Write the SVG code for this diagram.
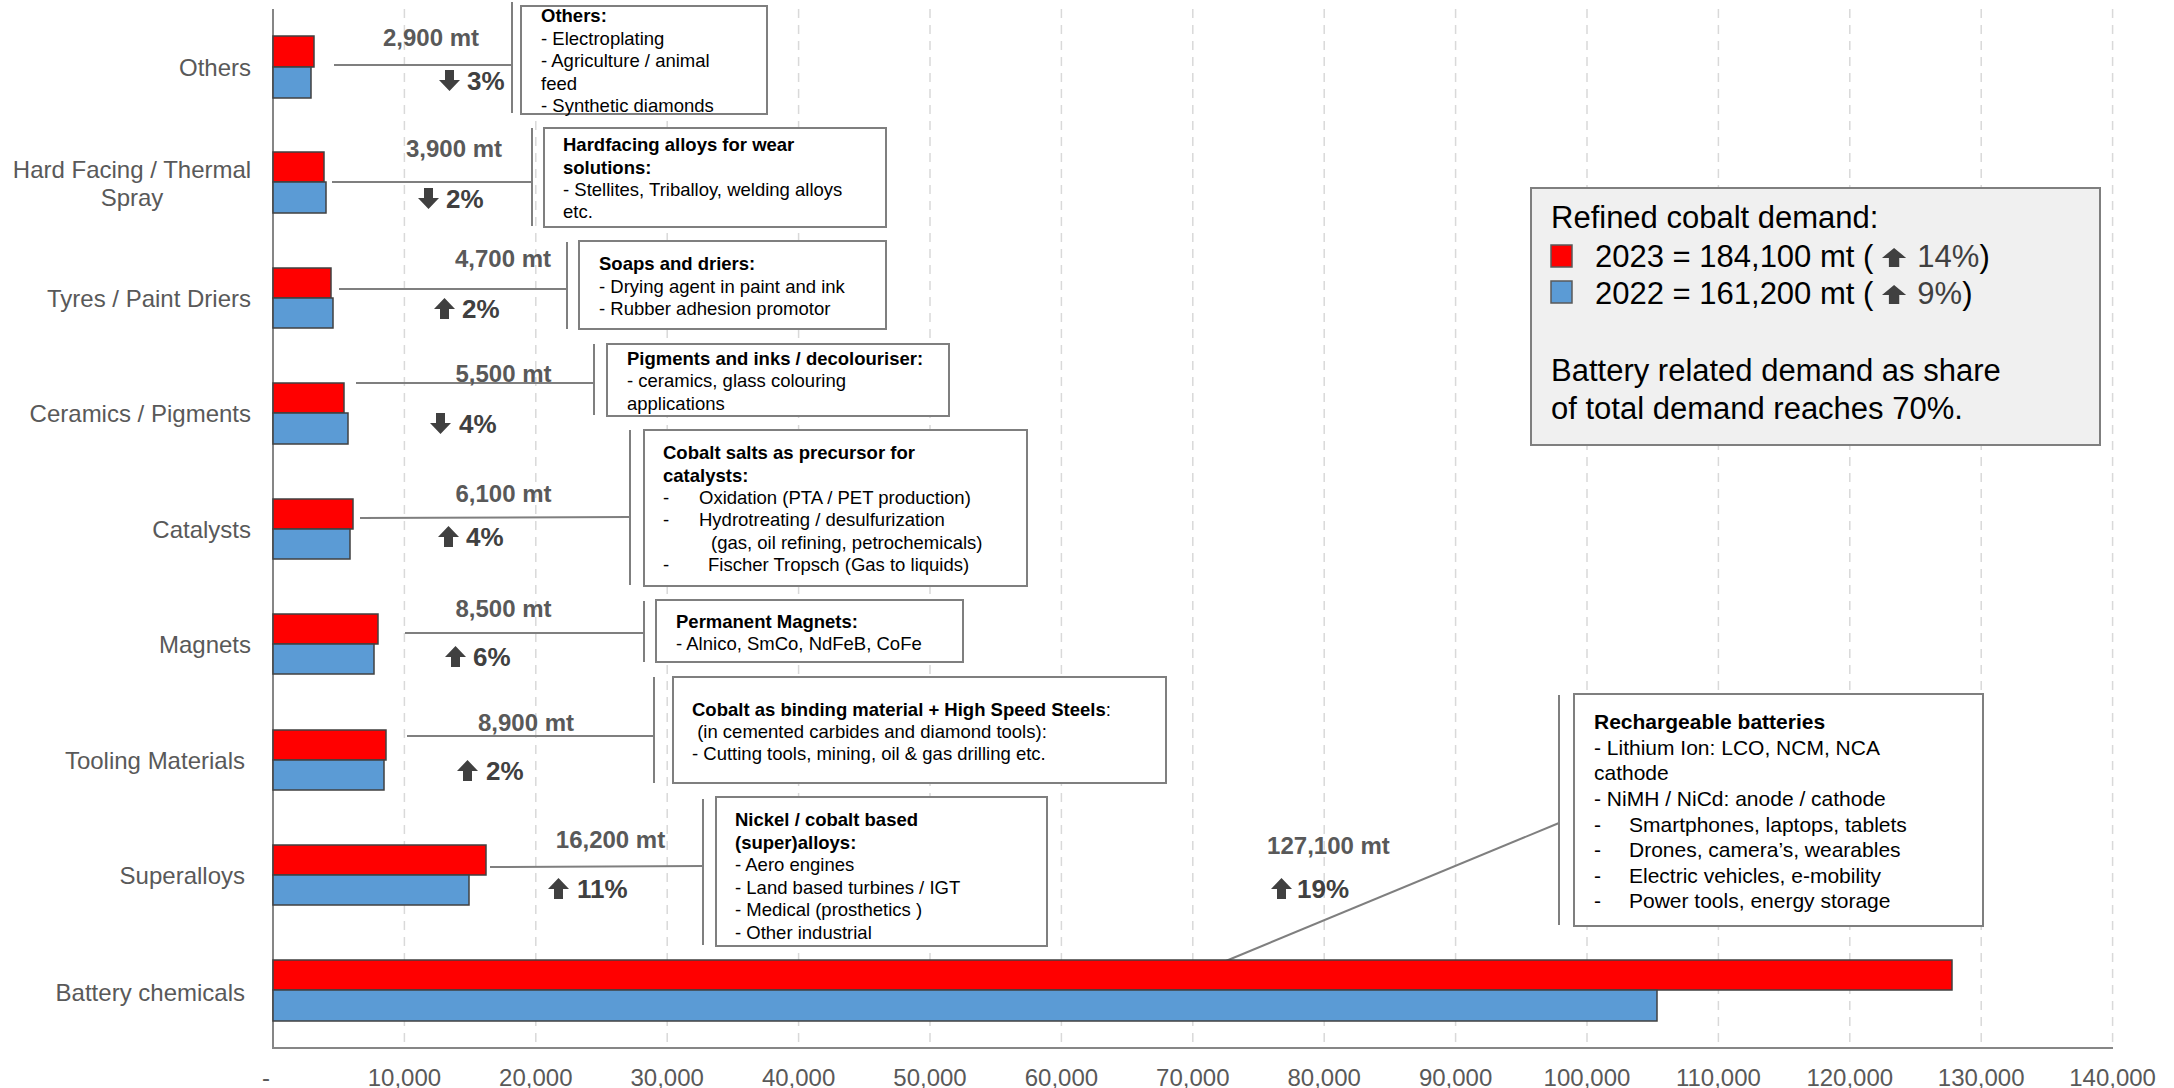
<svg xmlns="http://www.w3.org/2000/svg" xmlns:xlink="http://www.w3.org/1999/xlink" width="2174" height="1088" viewBox="0 0 2174 1088">
<style>
.cat{font-family:"Liberation Sans",Arial,sans-serif;font-size:24px;fill:#595959}
.ax{font-family:"Liberation Sans",Arial,sans-serif;font-size:24px;fill:#595959;text-anchor:middle}
.val{font-family:"Liberation Sans",Arial,sans-serif;font-size:24px;font-weight:bold;fill:#595959;text-anchor:middle}
.pct{font-family:"Liberation Sans",Arial,sans-serif;font-size:26px;font-weight:bold;fill:#404040}
.bt{font-family:"Liberation Sans",Arial,sans-serif;font-size:18.5px;fill:#000}
.bb{font-weight:bold}
.big{font-family:"Liberation Sans",Arial,sans-serif;font-size:21px;fill:#000}
.leg{font-family:"Liberation Sans",Arial,sans-serif;font-size:31px;fill:#000}
.box{fill:#fff;stroke:#7f7f7f;stroke-width:2}
.r{fill:#ff0000;stroke:#404040;stroke-width:1.5}
.b{fill:#5b9bd5;stroke:#404040;stroke-width:1.5}
.grid{stroke:#d9d9d9;stroke-width:1.5;stroke-dasharray:9,7}
.lead{stroke:#7f7f7f;stroke-width:2;fill:none}
.arr{fill:#404040}
</style>
<defs>
<path id="up" d="M10.5,0 L21,11 L15,11 L15,21 L6,21 L6,11 L0,11 Z"/>
<path id="dn" d="M10.5,21 L21,10 L15,10 L15,0 L6,0 L6,10 L0,10 Z"/>
</defs>
<rect width="2174" height="1088" fill="#fff"/>

<g id="grid">
<line class="grid" x1="404.4" y1="9" x2="404.4" y2="1048"/>
<line class="grid" x1="535.8" y1="9" x2="535.8" y2="1048"/>
<line class="grid" x1="667.2" y1="9" x2="667.2" y2="1048"/>
<line class="grid" x1="798.6" y1="9" x2="798.6" y2="1048"/>
<line class="grid" x1="930" y1="9" x2="930" y2="1048"/>
<line class="grid" x1="1061.4" y1="9" x2="1061.4" y2="1048"/>
<line class="grid" x1="1192.8" y1="9" x2="1192.8" y2="1048"/>
<line class="grid" x1="1324.2" y1="9" x2="1324.2" y2="1048"/>
<line class="grid" x1="1455.6" y1="9" x2="1455.6" y2="1048"/>
<line class="grid" x1="1587" y1="9" x2="1587" y2="1048"/>
<line class="grid" x1="1718.4" y1="9" x2="1718.4" y2="1048"/>
<line class="grid" x1="1849.8" y1="9" x2="1849.8" y2="1048"/>
<line class="grid" x1="1981.2" y1="9" x2="1981.2" y2="1048"/>
<line class="grid" x1="2112.6" y1="9" x2="2112.6" y2="1048"/>
</g>

<g id="axes">
<line x1="273" y1="9" x2="273" y2="1048" stroke="#868686" stroke-width="2"/>
<line x1="272" y1="1048" x2="2113" y2="1048" stroke="#868686" stroke-width="2"/>
<text class="ax" x="266" y="1086">-</text>
<text class="ax" x="404.4" y="1086">10,000</text>
<text class="ax" x="535.8" y="1086">20,000</text>
<text class="ax" x="667.2" y="1086">30,000</text>
<text class="ax" x="798.6" y="1086">40,000</text>
<text class="ax" x="930" y="1086">50,000</text>
<text class="ax" x="1061.4" y="1086">60,000</text>
<text class="ax" x="1192.8" y="1086">70,000</text>
<text class="ax" x="1324.2" y="1086">80,000</text>
<text class="ax" x="1455.6" y="1086">90,000</text>
<text class="ax" x="1587" y="1086">100,000</text>
<text class="ax" x="1718.4" y="1086">110,000</text>
<text class="ax" x="1849.8" y="1086">120,000</text>
<text class="ax" x="1981.2" y="1086">130,000</text>
<text class="ax" x="2112.6" y="1086">140,000</text>
</g>

<g id="connectors">
<polyline class="lead" points="334,65 512,65"/><line class="lead" x1="512" y1="2" x2="512" y2="113"/>
<polyline class="lead" points="332,182 532,182"/><line class="lead" x1="532" y1="128" x2="532" y2="226"/>
<polyline class="lead" points="339,289 567,289"/><line class="lead" x1="567" y1="242" x2="567" y2="329"/>
<polyline class="lead" points="356,383 594,383"/><line class="lead" x1="594" y1="344" x2="594" y2="415"/>
<polyline class="lead" points="360,518 630,517"/><line class="lead" x1="630" y1="430" x2="630" y2="585"/>
<polyline class="lead" points="405,633 644,633"/><line class="lead" x1="644" y1="601" x2="644" y2="662"/>
<polyline class="lead" points="407,736 654,736"/><line class="lead" x1="654" y1="677" x2="654" y2="783"/>
<polyline class="lead" points="490,867 703,866"/><line class="lead" x1="703" y1="799" x2="703" y2="945"/>
<polyline class="lead" points="1221,963 1559,823"/><line class="lead" x1="1559" y1="695" x2="1559" y2="925"/>
</g>

<g id="others">
<text class="cat" x="251" y="75.5" text-anchor="end">Others</text>
<rect class="r" x="273" y="36" width="41" height="31"/>
<rect class="b" x="273" y="67" width="38" height="31"/>
<text class="val" x="431" y="45.5">2,900 mt</text>
<use href="#dn" class="arr" x="439" y="70"/><text class="pct" x="467" y="89.5">3%</text>
<rect class="box" x="521" y="6" width="246" height="108"/>
<text class="bt" x="541"><tspan class="bb" x="541" y="21.5">Others:</tspan><tspan x="541" y="44.5">- Electroplating</tspan><tspan x="541" y="66.5">- Agriculture / animal</tspan><tspan x="541" y="89.5">feed</tspan><tspan x="541" y="111.5">- Synthetic diamonds</tspan></text>
</g>

<g id="hardfacing">
<text class="cat" text-anchor="middle"><tspan x="132" y="177.5">Hard Facing / Thermal</tspan><tspan x="132" y="205.5">Spray</tspan></text>
<rect class="r" x="273" y="152" width="51" height="30"/>
<rect class="b" x="273" y="182" width="53" height="31"/>
<text class="val" x="454" y="156.5">3,900 mt</text>
<use href="#dn" class="arr" x="418" y="188"/><text class="pct" x="446" y="207.5">2%</text>
<rect class="box" x="544" y="128" width="342" height="99"/>
<text class="bt"><tspan class="bb" x="563" y="150.5">Hardfacing alloys for wear</tspan><tspan class="bb" x="563" y="173.5">solutions:</tspan><tspan x="563" y="195.5">- Stellites, Triballoy, welding alloys</tspan><tspan x="563" y="217.5">etc.</tspan></text>
</g>

<g id="tyres">
<text class="cat" x="251" y="306.5" text-anchor="end">Tyres / Paint Driers</text>
<rect class="r" x="273" y="268" width="58" height="30"/>
<rect class="b" x="273" y="298" width="60" height="30"/>
<text class="val" x="503" y="266.5">4,700 mt</text>
<use href="#up" class="arr" x="434" y="298"/><text class="pct" x="462" y="317.5">2%</text>
<rect class="box" x="579" y="241" width="307" height="88"/>
<text class="bt"><tspan class="bb" x="599" y="269.5">Soaps and driers:</tspan><tspan x="599" y="292.5">- Drying agent in paint and ink</tspan><tspan x="599" y="314.5">- Rubber adhesion promotor</tspan></text>
</g>

<g id="ceramics">
<text class="cat" x="251" y="422" text-anchor="end">Ceramics / Pigments</text>
<rect class="r" x="273" y="383" width="71" height="30"/>
<rect class="b" x="273" y="413" width="75" height="31"/>
<text class="val" x="503.5" y="381.5">5,500 mt</text>
<use href="#dn" class="arr" x="430" y="413"/><text class="pct" x="459" y="432.5">4%</text>
<rect class="box" x="607" y="344" width="342" height="72"/>
<text class="bt"><tspan class="bb" x="627" y="364.5">Pigments and inks / decolouriser:</tspan><tspan x="627" y="386.5">- ceramics, glass colouring</tspan><tspan x="627" y="409.5">applications</tspan></text>
</g>

<g id="catalysts">
<text class="cat" x="251" y="537.5" text-anchor="end">Catalysts</text>
<rect class="r" x="273" y="499" width="80" height="30"/>
<rect class="b" x="273" y="529" width="77" height="30"/>
<text class="val" x="503.5" y="501.5">6,100 mt</text>
<use href="#up" class="arr" x="438" y="526"/><text class="pct" x="466" y="545.5">4%</text>
<rect class="box" x="644" y="430" width="383" height="156"/>
<text class="bt"><tspan class="bb" x="663" y="458.5">Cobalt salts as precursor for</tspan><tspan class="bb" x="663" y="481.5">catalysts:</tspan><tspan x="663" y="503.5">-</tspan><tspan x="699" y="503.5">Oxidation (PTA / PET production)</tspan><tspan x="663" y="525.5">-</tspan><tspan x="699" y="525.5">Hydrotreating / desulfurization</tspan><tspan x="711" y="548.5">(gas, oil refining, petrochemicals)</tspan><tspan x="663" y="570.5">-</tspan><tspan x="708" y="570.5">Fischer Tropsch (Gas to liquids)</tspan></text>
</g>

<g id="magnets">
<text class="cat" x="251" y="653" text-anchor="end">Magnets</text>
<rect class="r" x="273" y="614" width="105" height="30"/>
<rect class="b" x="273" y="644" width="101" height="30"/>
<text class="val" x="503.5" y="616.5">8,500 mt</text>
<use href="#up" class="arr" x="445" y="646"/><text class="pct" x="473" y="665.5">6%</text>
<rect class="box" x="656" y="600" width="307" height="62"/>
<text class="bt"><tspan class="bb" x="676" y="627.5">Permanent Magnets:</tspan><tspan x="676" y="649.5">- Alnico, SmCo, NdFeB, CoFe</tspan></text>
</g>

<g id="tooling">
<text class="cat" x="245" y="768.5" text-anchor="end">Tooling Materials</text>
<rect class="r" x="273" y="730" width="113" height="30"/>
<rect class="b" x="273" y="760" width="111" height="30"/>
<text class="val" x="526" y="730.5">8,900 mt</text>
<use href="#up" class="arr" x="457" y="760"/><text class="pct" x="486" y="779.5">2%</text>
<rect class="box" x="673" y="677" width="493" height="106"/>
<text class="bt"><tspan class="bb" x="692" y="715.5">Cobalt as binding material + High Speed Steels</tspan><tspan>:</tspan><tspan x="692" y="737.5"> (in cemented carbides and diamond tools):</tspan><tspan x="692" y="759.5">- Cutting tools, mining, oil &amp; gas drilling etc.</tspan></text>
</g>

<g id="superalloys">
<text class="cat" x="245" y="884" text-anchor="end">Superalloys</text>
<rect class="r" x="273" y="845" width="213" height="30"/>
<rect class="b" x="273" y="875" width="196" height="30"/>
<text class="val" x="610.5" y="847.5">16,200 mt</text>
<use href="#up" class="arr" x="548" y="878"/><text class="pct" x="577" y="897.5">11%</text>
<rect class="box" x="716" y="797" width="331" height="149"/>
<text class="bt"><tspan class="bb" x="735" y="825.5">Nickel / cobalt based</tspan><tspan class="bb" x="735" y="848.5">(super)alloys:</tspan><tspan x="735" y="870.5">- Aero engines</tspan><tspan x="735" y="893.5">- Land based turbines / IGT</tspan><tspan x="735" y="915.5">- Medical (prosthetics )</tspan><tspan x="735" y="938.5">- Other industrial</tspan></text>
</g>

<g id="battery">
<text class="cat" x="245" y="1000.5" text-anchor="end">Battery chemicals</text>
<rect class="r" x="273" y="960" width="1679" height="30"/>
<rect class="b" x="273" y="990" width="1384" height="31"/>
<text class="val" x="1328.5" y="853.5">127,100 mt</text>
<use href="#up" class="arr" x="1271" y="878"/><text class="pct" x="1297" y="897.5">19%</text>
<rect class="box" x="1574" y="694" width="409" height="232"/>
<text class="big"><tspan class="bb" x="1594" y="729">Rechargeable batteries</tspan><tspan x="1594" y="755">- Lithium Ion: LCO, NCM, NCA</tspan><tspan x="1594" y="780">cathode</tspan><tspan x="1594" y="806">- NiMH / NiCd: anode / cathode</tspan><tspan x="1594" y="832">-</tspan><tspan x="1629" y="832">Smartphones, laptops, tablets</tspan><tspan x="1594" y="857">-</tspan><tspan x="1629" y="857">Drones, camera’s, wearables</tspan><tspan x="1594" y="883">-</tspan><tspan x="1629" y="883">Electric vehicles, e-mobility</tspan><tspan x="1594" y="908">-</tspan><tspan x="1629" y="908">Power tools, energy storage</tspan></text>
</g>

<g id="legend">
<rect x="1531" y="188" width="569" height="257" fill="#f0f0f0" stroke="#7f7f7f" stroke-width="2"/>
<text class="leg" x="1551" y="228">Refined cobalt demand:</text>
<rect x="1551" y="245" width="21" height="22" fill="#ff0000" stroke="#595959" stroke-width="1.5"/>
<text class="leg" x="1595" y="267"><tspan>2023 = 184,100 mt (</tspan><tspan dx="44" fill="#404040">14%</tspan><tspan>)</tspan></text>
<use href="#up" class="arr" x="1882" y="248" transform="translate(1882,248) scale(1.15,0.9) translate(-1882,-248)"/>
<rect x="1551" y="281" width="21" height="22" fill="#5b9bd5" stroke="#595959" stroke-width="1.5"/>
<text class="leg" x="1595" y="304"><tspan>2022 = 161,200 mt (</tspan><tspan dx="44" fill="#404040">9%</tspan><tspan>)</tspan></text>
<use href="#up" class="arr" x="1882" y="285" transform="translate(1882,285) scale(1.15,0.9) translate(-1882,-285)"/>
<text class="leg" x="1551" y="381">Battery related demand as share</text>
<text class="leg" x="1551" y="419">of total demand reaches 70%.</text>
</g>
</svg>
